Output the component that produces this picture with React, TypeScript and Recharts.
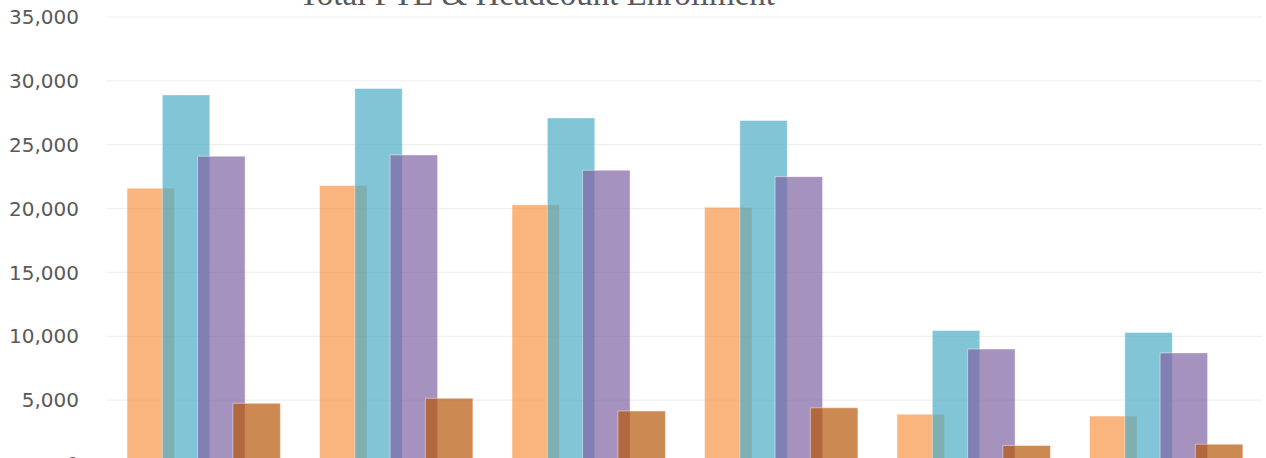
import { Bar, BarChart, CartesianGrid, XAxis, YAxis } from "recharts";

const terms = ["Fall 2011", "Spring 2012", "Fall 2012", "Spring 2013", "Summer 2012", "Summer 2013"];
const creditFte = [21600, 21800, 20300, 20100, 3900, 3750];
const creditHeadcount = [28900, 29400, 27100, 26900, 10450, 10300];
const unduplicatedHeadcount = [24100, 24200, 23000, 22500, 9000, 8700];
const noncreditFte = [4750, 5150, 4150, 4400, 1450, 1550];
const yTicks = [0, 5000, 10000, 15000, 20000, 25000, 30000, 35000];

const rows = terms.map((term, i) => ({
  term,
  creditFte: creditFte[i],
  creditHeadcount: creditHeadcount[i],
  unduplicatedHeadcount: unduplicatedHeadcount[i],
  noncreditFte: noncreditFte[i],
}));

const series = [
  { key: "creditFte", name: "Credit FTE", color: "#F79646" },
  { key: "creditHeadcount", name: "Credit Headcount", color: "#4BACC6" },
  { key: "unduplicatedHeadcount", name: "Unduplicated Headcount", color: "#8064A2" },
  { key: "noncreditFte", name: "Noncredit FTE", color: "#B65708" },
];

const App = () => {
  return (
    <div style={{ position: "absolute", top: 0, left: 0, width: 1266, height: 500 }}>
      <BarChart
        width={1266}
        height={500}
        data={rows}
        margin={{ top: 17, right: 4, bottom: 36, left: 1 }}
        barSize={47.5}
        barGap={-12.2}
      >
        <CartesianGrid vertical={false} stroke="#efefef" strokeWidth={1.2} />
        <XAxis dataKey="term" hide />
        <YAxis
          width={106}
          domain={[0, 35000]}
          ticks={yTicks}
          axisLine={false}
          tickLine={false}
          tickSize={0}
          tickMargin={28}
          tickFormatter={(v: number) => v.toLocaleString("en-US")}
          tick={{ fill: "#595959", fontSize: 20, fontFamily: "DejaVu Sans" }}
        />
        {series.map((s) => (
          <Bar
            key={s.key}
            dataKey={s.key}
            name={s.name}
            fill={s.color}
            fillOpacity={0.7}
            stroke="#ffffff"
            strokeOpacity={0.45}
            strokeWidth={1}
            isAnimationActive={false}
          />
        ))}
      </BarChart>
      <svg
        width={1266}
        height={40}
        style={{ position: "absolute", top: 0, left: 0, pointerEvents: "none" }}
      >
        <text
          x={537}
          y={5}
          textAnchor="middle"
          fill="#595959"
          fontSize={33}
          fontFamily="Liberation Serif"
        >
          Total FTE &amp; Headcount Enrollment
        </text>
      </svg>
    </div>
  );
};

export default App;
